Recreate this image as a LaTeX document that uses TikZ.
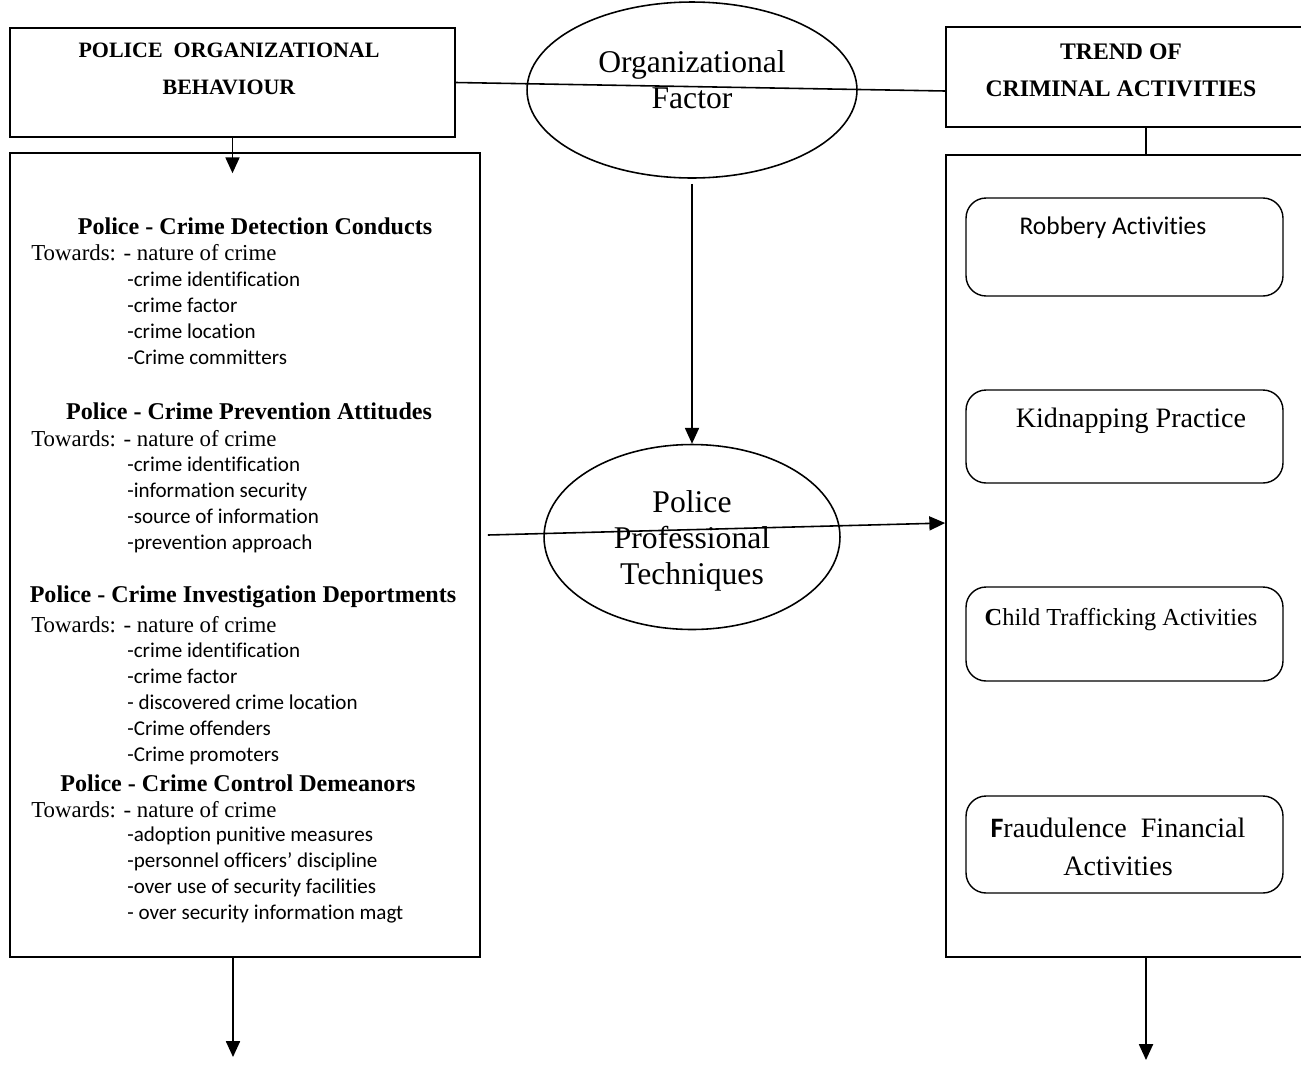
\documentclass[tikz,border=0pt]{standalone}
\usepackage{fontspec}
\setmainfont{Liberation Serif}
\newfontfamily\calfont[Ligatures=NoCommon]{Carlito}
\usepackage{tikz}
\usetikzlibrary{arrows.meta,positioning,shapes.geometric}

\tikzset{
  box/.style={draw,line width=1pt,rectangle,inner sep=0pt},
  oval/.style={draw,line width=0.9pt,ellipse,inner sep=0pt},
  ovaltext/.style={align=center,font=\fontsize{18}{20.5}\selectfont},
  crimebox/.style={draw,line width=0.8pt,rounded corners=0.4cm,
                   minimum width=6.34cm,inner sep=0pt},
  arr/.style={line width=0.9pt,-{Triangle[length=9pt,width=8pt]}},
  head/.style={font=\bfseries\fontsize{13.7}{15}\selectfont},
  towards/.style={anchor=west,inner sep=0pt,font=\fontsize{13}{15}\selectfont},
  items/.style={anchor=west,align=left,inner sep=0pt,
                font=\calfont\fontsize{12}{14.8}\selectfont},
}

\begin{document}
\begin{tikzpicture}[x=0.02cm,y=-0.02cm]
  \useasboundingbox (0,0) rectangle (1301,1069);
  \clip (0,0) rectangle (1301,1069);

  % top row
  \node[box,minimum width=8.9cm,minimum height=2.18cm] (pob) at (232.5,82.5) {};
  \node[font=\bfseries\fontsize{12.5}{21}\selectfont,align=center] (pobt) at (229,68.5)
    {POLICE\ \ ORGANIZATIONAL\\BEHAVIOUR};
  \node[box,minimum width=7.28cm,minimum height=2cm] (trend) at (1128,77) {};
  \node[font=\bfseries\fontsize{13.5}{21}\selectfont,align=center] (trendt) at (1121,70.5)
    {TREND OF\\CRIMINAL ACTIVITIES};
  \node[oval,minimum width=6.6cm,minimum height=3.52cm] (orgf) at (692,90) {};
  \node[ovaltext] (orgft) at (692,80) {Organizational\\Factor};

  % big boxes
  \node[box,minimum width=9.4cm,minimum height=16.08cm] (beh) at (245,555) {};
  \node[box,minimum width=7.28cm,minimum height=16.04cm] (trendbox) at (1128,556) {};
  \node[oval,minimum width=5.92cm,minimum height=3.7cm] (ppt) at (692,537) {};
  \node[ovaltext] (pptt) at (692,541) {Police\\Professional\\Techniques};

  % behaviour lists
  \node[head] (h1) at (255,226) {Police - Crime Detection Conducts};
  \node[towards] (t1) at (31,253) {Towards: - nature of crime};
  \node[items] (i1) at (127,318)
    {-crime identification\\-crime factor\\-crime location\\-Crime committers};

  \node[head] (h2) at (249,411) {Police - Crime Prevention Attitudes};
  \node[towards] (t2) at (31,439) {Towards: - nature of crime};
  \node[items] (i2) at (127,505)
    {-crime identification\\-information security\\-source of information\\-prevention approach};

  \node[head] (h3) at (243,597) {Police - Crime Investigation Deportments};
  \node[towards] (t3) at (31,625) {Towards: - nature of crime};
  \node[items] (i3) at (127,704)
    {-crime identification\\-crime factor\\- discovered crime location\\-Crime offenders\\-Crime promoters};

  \node[head] (h4) at (238,783) {Police - Crime Control Demeanors};
  \node[towards] (t4) at (31,810) {Towards: - nature of crime};
  \node[items] (i4) at (127,875)
    {-adoption punitive measures\\-personnel officers’ discipline\\-over use of security facilities\\- over security information magt};

  % crime trends
  \node[crimebox,minimum height=1.96cm] (rob) at (1124.5,247) {};
  \node[font=\calfont\fontsize{14.5}{17}\selectfont] (robt) at (1113,228) {Robbery Activities};
  \node[crimebox,minimum height=1.86cm] (kid) at (1124.5,436.5) {};
  \node[font=\fontsize{16}{18}\selectfont] (kidt) at (1131,421) {Kidnapping Practice};
  \node[crimebox,minimum height=1.88cm] (chd) at (1124.5,634) {};
  \node[font=\fontsize{13.9}{15}\selectfont] (chdt) at (1121,620) {\textbf{C}hild Trafficking Activities};
  \node[crimebox,minimum height=1.94cm] (frd) at (1124.5,844.5) {};
  \node[font=\fontsize{16}{21.6}\selectfont,align=center] (frdt) at (1118,847)
    {{\calfont\bfseries F}raudulence\ \ Financial\\Activities};

  % connectors
  \draw[line width=0.9pt] (pob.east) -- ([yshift=-0.28cm]trend.west);
  \coordinate (behin) at ([yshift=-0.42cm]beh.north);
  \draw[arr] (pob.south) -- (pob.south |- behin);
  \draw[arr,shorten <=0.1cm] (orgf.south) -- (ppt.north);
  \draw[arr] ([xshift=0.14cm,yshift=0.4cm]beh.east) -- ([yshift=0.66cm]trendbox.west);
  \draw[line width=0.9pt] ([xshift=0.36cm]trend.south) -- ([xshift=0.36cm]trendbox.north);
  \coordinate (outL) at (233,1057);
  \coordinate (outR) at (1146,1060);
  \draw[arr] (outL |- beh.south) -- (outL);
  \draw[arr] (outR |- trendbox.south) -- (outR);
\end{tikzpicture}
\end{document}
